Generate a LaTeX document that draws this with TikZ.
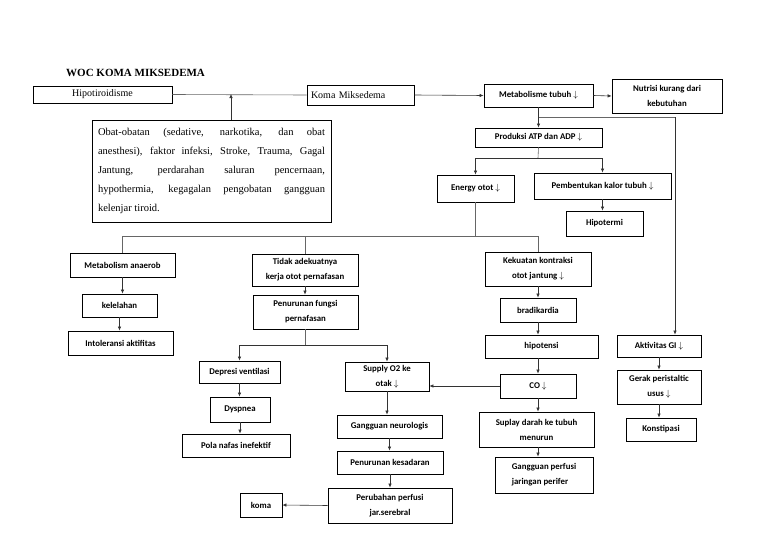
\documentclass[tikz,border=0pt]{standalone}
\usepackage{fontspec}
\setmainfont{Liberation Serif}
\newfontfamily\calibri{Carlito}
\usetikzlibrary{arrows.meta}
\newcommand{\turun}{$\downarrow$}

\begin{document}
\begin{tikzpicture}[x=1pt,y=-1pt,
    kotak/.style={draw,line width=0.8pt,inner sep=2pt,align=center,
      font=\calibri\bfseries\fontsize{8.8}{15}\selectfont},
    panah/.style={-{Latex[length=4pt,width=3.5pt]},line width=0.6pt,black!80},
    garis/.style={line width=0.6pt,black!60}]
  \useasboundingbox (0,0) rectangle (768,543);

  % judul
  \node[anchor=west,inner sep=0pt,font=\bfseries\fontsize{11}{12}\selectfont] (judul) at (66,73) {WOC KOMA MIKSEDEMA};

  % baris atas
  \node[draw,line width=0.8pt,minimum width=139pt,minimum height=17pt,font=\fontsize{10}{12}\selectfont] (hipo) at (102.5,94.5) {Hipotiroidisme};
  \node[draw,line width=0.8pt,minimum width=107pt,minimum height=20pt,inner xsep=4pt,text width=99pt,align=left,font=\fontsize{10}{12}\selectfont] (koma) at (360.5,95) {Koma Miksedema};
  \node[draw,line width=0.8pt,minimum width=239pt,minimum height=102pt,inner xsep=6pt,text width=227pt,align=justify,font=\fontsize{10.5}{19}\selectfont] (obat) at (211.5,171)
    {Obat-obatan (sedative, narkotika, dan obat\linebreak anesthesi), faktor infeksi, Stroke, Trauma, Gagal\linebreak Jantung, perdarahan saluran pencernaan,\linebreak hypothermia, kegagalan pengobatan gangguan\linebreak kelenjar tiroid.};
  \node[kotak,minimum width=109pt,minimum height=23pt] (metab) at (538.5,95.5) {Metabolisme tubuh \turun};
  \node[kotak,minimum width=110pt,minimum height=34pt] (nutrisi) at (667,96) {Nutrisi kurang dari\\kebutuhan};

  % cabang ATP
  \node[kotak,minimum width=127pt,minimum height=19pt] (produksi) at (538.5,137.5) {Produksi ATP dan ADP \turun};
  \node[kotak,minimum width=77pt,minimum height=27pt] (energy) at (475.5,188.5) {Energy otot \turun};
  \node[kotak,minimum width=137pt,minimum height=26pt] (kalor) at (602.5,186) {Pembentukan kalor tubuh \turun};
  \node[kotak,minimum width=77pt,minimum height=25pt] (hipotermi) at (604.5,223.5) {Hipotermi};

  % kolom kiri
  \node[kotak,minimum width=105pt,minimum height=24pt] (anaerob) at (122.5,265) {Metabolism anaerob};
  \node[kotak,minimum width=75pt,minimum height=23pt] (lelah) at (119.5,305.5) {kelelahan};
  \node[kotak,minimum width=105pt,minimum height=24pt] (intoleransi) at (120.5,343) {Intoleransi aktifitas};

  % pernafasan
  \node[kotak,minimum width=106pt,minimum height=32pt] (tidak) at (305,270) {Tidak adekuatnya\\kerja otot pernafasan};
  \node[kotak,minimum width=105pt,minimum height=34pt] (fungsi) at (305.5,312) {Penurunan fungsi\\pernafasan};
  \node[kotak,minimum width=81pt,minimum height=22pt] (depresi) at (239.5,372) {Depresi ventilasi};
  \node[kotak,minimum width=60pt,minimum height=25pt] (dyspnea) at (240,409.5) {Dyspnea};
  \node[kotak,minimum width=108pt,minimum height=23pt] (pola) at (236,445.5) {Pola nafas inefektif};

  % otak
  \node[kotak,minimum width=84pt,minimum height=29pt] (supply) at (387,376.5) {Supply O2 ke\\otak \turun};
  \node[kotak,minimum width=105pt,minimum height=23pt] (neuro) at (389.5,426.5) {Gangguan neurologis};
  \node[kotak,minimum width=106pt,minimum height=23pt] (sadar) at (390,462.5) {Penurunan kesadaran};
  \node[kotak,minimum width=124pt,minimum height=35pt] (serebral) at (390,505.5) {Perubahan perfusi\\jar.serebral};
  \node[kotak,minimum width=42pt,minimum height=24pt] (komaa) at (261,505) {koma};

  % jantung
  \node[kotak,minimum width=106pt,minimum height=34pt] (kontraksi) at (538,269) {Kekuatan kontraksi\\otot jantung \turun};
  \node[kotak,minimum width=76pt,minimum height=24pt] (bradi) at (538,310) {bradikardia};
  \node[kotak,minimum width=113pt,minimum height=23pt] (tensi) at (541.5,346.5) {hipotensi};
  \node[kotak,minimum width=76pt,minimum height=24pt] (co) at (538,386) {CO \turun};
  \node[kotak,minimum width=115pt,minimum height=35pt] (darah) at (536.5,429.5) {Suplay darah ke tubuh\\menurun};
  \node[kotak,minimum width=98pt,minimum height=36pt,align=left] (perifer) at (544,475) {Gangguan perfusi\\jaringan perifer};

  % pencernaan
  \node[kotak,minimum width=84pt,minimum height=22pt] (gi) at (659,346) {Aktivitas GI \turun};
  \node[kotak,minimum width=84pt,minimum height=34pt] (gerak) at (659,387) {Gerak peristaltic\\usus \turun};
  \node[kotak,minimum width=70pt,minimum height=23pt] (konstipasi) at (661,429.5) {Konstipasi};

  % titik cabang
  \coordinate (c1) at (231,94);
  \coordinate (c2) at (675,117);
  \coordinate (c3) at (538,158);
  \coordinate (c5) at (538,236);
  \coordinate (c6) at (305.5,345);

  % garis atas
  \draw[garis] (hipo.east) -- (koma.west);
  \draw[panah] (obat.north -| c1) -- (c1);
  \draw[panah] (koma.east) -- (metab.west);
  \draw[panah] (metab.east) -- (nutrisi.west);
  \draw[panah] (metab.south) -- (produksi.north);
  \draw[garis] (metab.south |- c2) -- (c2);
  \draw[panah] (c2) -- (gi.north -| c2);

  % ATP
  \draw[garis] (produksi.south) -- (c3);
  \draw[panah] (c3) -| (energy.north);
  \draw[panah] (c3) -| (kalor.north);
  \draw[panah] (kalor.south) -- (kalor.south |- hipotermi.north);
  \draw[garis] (energy.south) -- (energy.south |- c5);
  \draw[garis] (anaerob.north) |- (c5) -- (kontraksi.north);
  \draw[garis] (tidak.north) -- (tidak.north |- c5);

  % kiri
  \draw[panah] (anaerob.south) -- (anaerob.south |- lelah.north);
  \draw[panah] (lelah.south) -- (lelah.south |- intoleransi.north);

  % pernafasan
  \draw[panah] (tidak.south) -- (tidak.south |- fungsi.north);
  \draw[garis] (fungsi.south) -- (c6);
  \draw[panah] (c6) -| (depresi.north);
  \draw[panah] (c6) -| (supply.north);
  \draw[panah] (depresi.south) -- (depresi.south |- dyspnea.north);
  \draw[panah] (dyspnea.south) -- (dyspnea.south |- pola.north);

  % otak
  \draw[panah] (supply.south) -- (supply.south |- neuro.north);
  \draw[panah] (neuro.south) -- (neuro.south |- sadar.north);
  \draw[panah] (sadar.south) -- (sadar.south |- serebral.north);
  \draw[panah] (serebral.west) -- (komaa.east);

  % jantung
  \draw[panah] (kontraksi.south) -- (bradi.north);
  \draw[panah] (bradi.south) -- (bradi.south |- tensi.north);
  \draw[panah] (tensi.south -| co) -- (co.north);
  \draw[panah] (co.west) -- (co.west -| supply.east);
  \draw[panah] (co.south) -- (co.south |- darah.north);
  \draw[panah] (darah.south -| co) -- (co |- perifer.north);

  % pencernaan
  \draw[panah] (gi.south) -- (gerak.north);
  \draw[panah] (gerak.south) -- (gerak.south |- konstipasi.north);
\end{tikzpicture}
\end{document}
